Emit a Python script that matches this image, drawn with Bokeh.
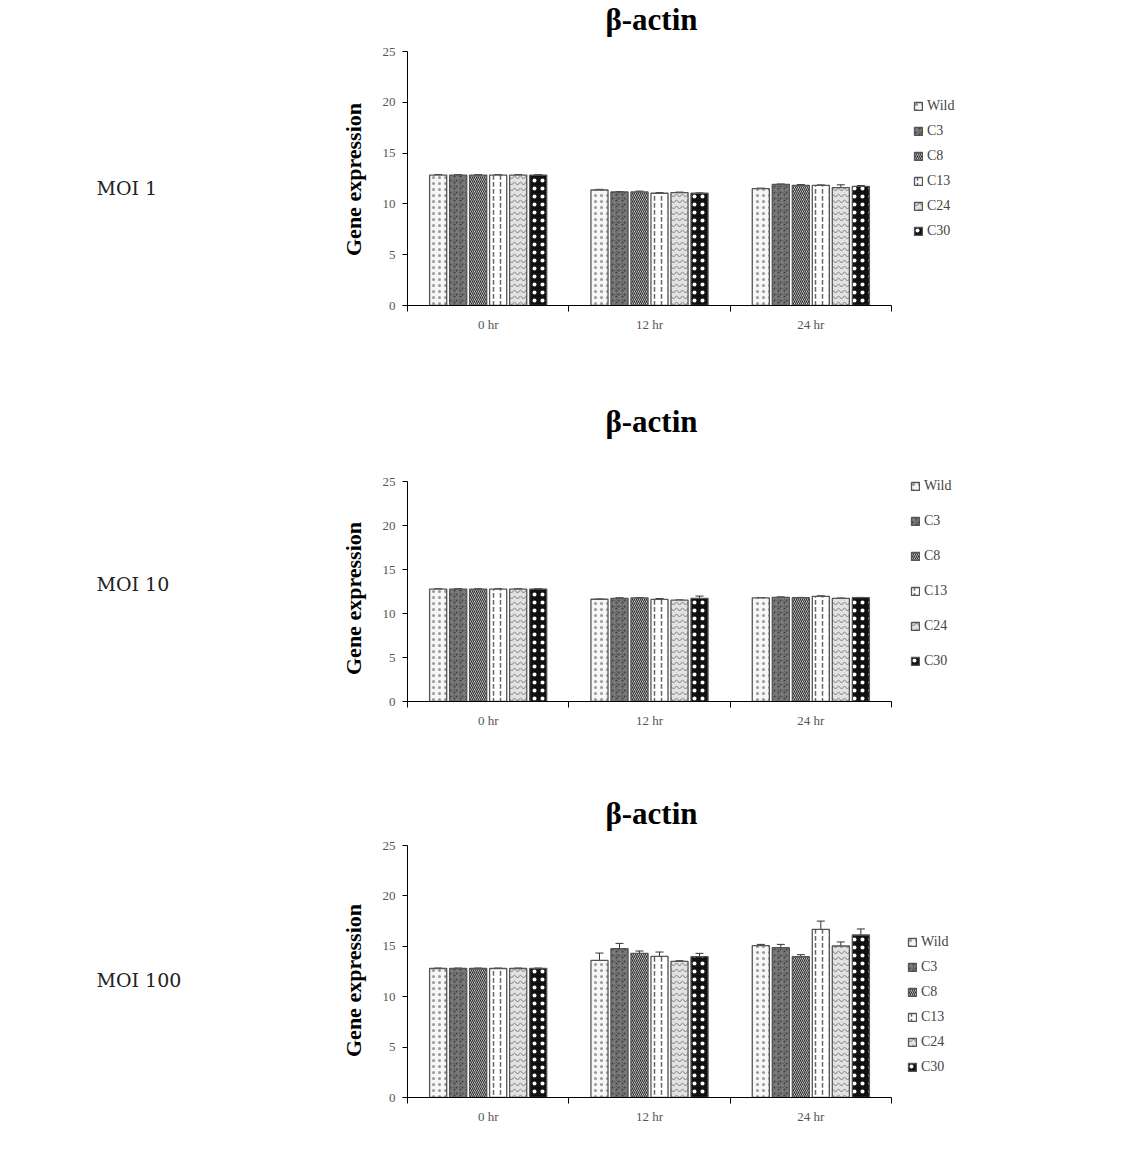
import math
from bokeh.plotting import figure
from bokeh.models import (FixedTicker, Range1d, Whisker, TeeHead, ColumnDataSource,
                          Legend, LegendItem)
from bokeh.core.properties import value
from bokeh.layouts import column, row
from bokeh.embed import file_html
from bokeh.resources import INLINE

times = ["0 hr", "12 hr", "24 hr"]
strains = ["Wild", "C3", "C8", "C13", "C24", "C30"]
title_text = "β-actin"
y_label = "Gene expression"
moi_labels = ["MOI  1", "MOI  10", "MOI  100"]

# values per time point, in strain order (Wild, C3, C8, C13, C24, C30)
moi1_0hr = [12.84, 12.84, 12.84, 12.84, 12.84, 12.84]
moi1_12hr = [11.37, 11.18, 11.18, 11.05, 11.11, 11.05]
moi1_24hr = [11.50, 11.93, 11.83, 11.83, 11.60, 11.73]
moi1_0hr_err = [0.04, 0.04, 0.04, 0.04, 0.04, 0.04]
moi1_12hr_err = [0.06, 0.04, 0.08, 0.06, 0.05, 0.03]
moi1_24hr_err = [0.05, 0.03, 0.07, 0.04, 0.28, 0.08]

moi10_0hr = [12.78, 12.78, 12.78, 12.78, 12.78, 12.78]
moi10_12hr = [11.62, 11.73, 11.77, 11.60, 11.52, 11.73]
moi10_24hr = [11.77, 11.84, 11.80, 11.95, 11.73, 11.80]
moi10_0hr_err = [0.04, 0.04, 0.04, 0.04, 0.04, 0.04]
moi10_12hr_err = [0.03, 0.06, 0.03, 0.10, 0.03, 0.25]
moi10_24hr_err = [0.03, 0.05, 0.03, 0.06, 0.03, 0.03]

moi100_0hr = [12.80, 12.80, 12.80, 12.80, 12.80, 12.80]
moi100_12hr = [13.60, 14.76, 14.30, 14.00, 13.50, 13.97]
moi100_24hr = [15.06, 14.86, 13.97, 16.68, 15.03, 16.12]
moi100_0hr_err = [0.04, 0.04, 0.04, 0.04, 0.04, 0.04]
moi100_12hr_err = [0.73, 0.53, 0.23, 0.43, 0.07, 0.33]
moi100_24hr_err = [0.13, 0.33, 0.20, 0.82, 0.40, 0.60]

panels = [
    ([moi1_0hr, moi1_12hr, moi1_24hr], [moi1_0hr_err, moi1_12hr_err, moi1_24hr_err]),
    ([moi10_0hr, moi10_12hr, moi10_24hr], [moi10_0hr_err, moi10_12hr_err, moi10_24hr_err]),
    ([moi100_0hr, moi100_12hr, moi100_24hr], [moi100_0hr_err, moi100_12hr_err, moi100_24hr_err]),
]

styles = [
    dict(fill_color="#f6f6f6", hatch_pattern="dot", hatch_color="#9a9a9a", hatch_scale=6, hatch_weight=1),
    dict(fill_color="#3c3c3c", hatch_pattern="criss_cross", hatch_color="#7a7a7a", hatch_scale=6, hatch_weight=1.5),
    dict(fill_color="#ffffff", hatch_pattern="left_diagonal_line", hatch_color="#333333", hatch_scale=4, hatch_weight=1.3),
    dict(fill_color="#ffffff", hatch_pattern="vertical_dash", hatch_color="#666666", hatch_scale=7, hatch_weight=1.5),
    dict(fill_color="#e2e2e2", hatch_pattern="horizontal_wave", hatch_color="#777777", hatch_scale=6, hatch_weight=1),
    dict(fill_color="#111111", hatch_pattern="dot", hatch_color="#ffffff", hatch_scale=8, hatch_weight=4),
]

SERIF = "Liberation Serif"
SIDE_W = 370
FRAME_L, FRAME_R_AXIS, FRAME_R = 407, 891, 1126
XEND = 3 * (FRAME_R - FRAME_L) / (FRAME_R_AXIS - FRAME_L)
PITCH, BW = 0.124, 0.106

# per panel: fig height, axis top (px), axis height (px), legend x, legend bottom, legend spacing,
#            title center, moi label center, y-label center (px from fig top)
layout = [
    (390, 51, 254, 506, 66, 9, 19, 187, 179),
    (385, 91, 220, 503, 32, 19, 31, 193, 208),
    (387, 70, 252, 500, 22, 9, 38, 204, 205),
]

rows = []
for k, ((vals, errs), (H, top, fh, lx, ly, lsp, ty, my, yl)) in enumerate(zip(panels, layout)):
    bottom_border = H - top - fh
    ppu = fh / 25.0
    xpu = (FRAME_R_AXIS - FRAME_L) / 3.0

    # left side area with the MOI label and the y-axis title (pixel coordinates from figure bottom)
    side = figure(width=SIDE_W, height=H, x_range=Range1d(0, SIDE_W),
                  y_range=Range1d(bottom_border, H),
                  min_border_left=0, min_border_right=0,
                  min_border_top=0, min_border_bottom=bottom_border,
                  output_backend="svg", toolbar_location=None, tools="")
    side.axis.visible = False
    side.grid.visible = False
    side.outline_line_color = None
    side.text(x=[96], y=[H - my], text=[moi_labels[k]], text_align="left", text_baseline="middle",
              text_font=value("DejaVu Serif"), text_font_size="19px", text_color="#222222")
    side.text(x=[353], y=[H - yl], text=[y_label], angle=math.pi / 2, text_align="center",
              text_baseline="middle", text_font=value(SERIF), text_font_style="bold",
              text_font_size="22px", text_color="black")

    # chart: frame reaches the top of the figure so the title fits inside; axis is bounded to 0..25
    p = figure(width=1136 - SIDE_W, height=H, x_range=Range1d(0, XEND),
               y_range=Range1d(0, 25 + top / ppu),
               min_border_left=FRAME_L - SIDE_W, min_border_right=1136 - FRAME_R,
               min_border_top=0, min_border_bottom=bottom_border,
               output_backend="svg", toolbar_location=None, tools="")
    p.outline_line_color = None
    p.xgrid.visible = False
    p.ygrid.visible = False

    p.text(x=[1.5 + 2 / xpu], y=[25 + (top - ty) / ppu], text=[title_text],
           text_align="center", text_baseline="middle", text_font=value(SERIF),
           text_font_style="bold", text_font_size="31px", text_color="black")

    items = []
    for j, s in enumerate(strains):
        xs = [i + 0.5 + (j - 2.5) * PITCH for i in range(3)]
        tops = [vals[i][j] for i in range(3)]
        ups = [vals[i][j] + errs[i][j] for i in range(3)]
        src = ColumnDataSource(dict(x=xs, top=tops, up=ups))
        r = p.vbar(x="x", top="top", bottom=0, width=BW, source=src,
                   line_color="#555555", line_width=1.3, **styles[j])
        w = Whisker(base="x", lower="top", upper="up", source=src, dimension="height",
                    line_color="#333333", line_width=1,
                    upper_head=TeeHead(size=8, line_color="#333333", line_width=1), lower_head=None)
        p.add_layout(w)
        items.append(LegendItem(label=s, renderers=[r]))

    leg = Legend(items=items, location=(lx, ly), padding=0, margin=0, spacing=lsp,
                 glyph_width=10, glyph_height=10, label_height=16, label_standoff=4,
                 label_text_font=SERIF, label_text_font_size="14px", label_text_color="#444444",
                 border_line_color=None, background_fill_alpha=0)
    p.add_layout(leg)

    xa = p.xaxis[0]
    xa.ticker = FixedTicker(ticks=[0.5, 1.5, 2.5], minor_ticks=[0, 1, 2, 3])
    xa.major_label_overrides = {0.5: times[0], 1.5: times[1], 2.5: times[2]}
    xa.bounds = (0, 3)
    xa.major_tick_out = 0
    xa.major_tick_in = 0
    xa.minor_tick_out = 6
    xa.minor_tick_in = 0
    xa.minor_tick_line_color = "black"
    xa.axis_line_color = "black"
    xa.major_label_text_font = SERIF
    xa.major_label_text_font_size = "13px"
    xa.major_label_text_color = "#555555"
    xa.major_label_standoff = 5

    ya = p.yaxis[0]
    ya.ticker = FixedTicker(ticks=[0, 5, 10, 15, 20, 25])
    ya.bounds = (0, 25)
    ya.major_tick_out = 5
    ya.major_tick_in = 0
    ya.minor_tick_out = 0
    ya.minor_tick_in = 0
    ya.axis_line_color = "black"
    ya.major_tick_line_color = "black"
    ya.major_label_text_font = SERIF
    ya.major_label_text_font_size = "13px"
    ya.major_label_text_color = "#555555"
    ya.major_label_standoff = 7

    rows.append(row(side, p, spacing=0))

layout_col = column(*rows, spacing=0)
open("out.html", "w").write(file_html(layout_col, INLINE))
